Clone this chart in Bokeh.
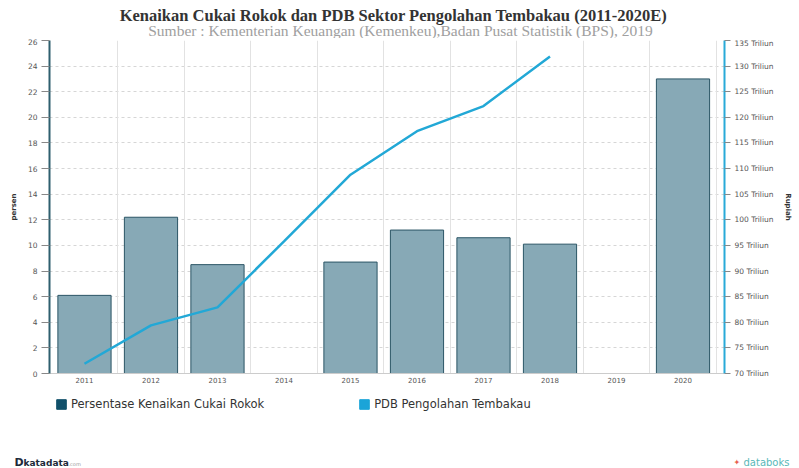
from bokeh.plotting import figure
from bokeh.layouts import column
from bokeh.models import (Range1d, LinearAxis, FixedTicker, PrintfTickFormatter, Label,
                          Legend, LegendItem)
from bokeh.embed import file_html
from bokeh.resources import INLINE

years = ["2011", "2012", "2013", "2014", "2015", "2016", "2017", "2018", "2019", "2020"]
cukai = [6.1, 12.2, 8.5, 0, 8.7, 11.2, 10.6, 10.1, 0, 23.0]
pdb_years = ["2011", "2012", "2013", "2014", "2015", "2016", "2017", "2018"]
pdb = [71.9, 79.4, 82.9, 95.8, 108.8, 117.3, 122.2, 131.9]
left_ticks = list(range(0, 27, 2))
right_ticks = list(range(70, 136, 5))

title_text = "Kenaikan Cukai Rokok dan PDB Sektor Pengolahan Tembakau (2011-2020E)"
subtitle_text = "Sumber : Kementerian Keuangan (Kemenkeu),Badan Pusat Statistik (BPS), 2019"
bar_label = "Persentase Kenaikan Cukai Rokok"
line_label = "PDB Pengolahan Tembakau"

W = 799
TOP_H = 38
MAIN_H = 352
BOT_H = 468 - TOP_H - MAIN_H
font = "DejaVu Sans"

# category slots: each year occupies one unit, centred at index + 0.5
xc = [i + 0.5 for i in range(len(years))]
pdb_x = [years.index(y) + 0.5 for y in pdb_years]


def blank(h):
    f = figure(width=W, height=h, x_range=Range1d(0, W), y_range=Range1d(0, h),
               output_backend="svg", toolbar_location=None,
               x_axis_location=None, y_axis_location=None, frame_align=False,
               min_border_left=0, min_border_right=0, min_border_top=0, min_border_bottom=0)
    f.grid.visible = False
    f.outline_line_color = None
    f.background_fill_color = "white"
    f.border_fill_color = "white"
    return f


# ---- title block
top = blank(TOP_H)
top.add_layout(Label(x=393, y=TOP_H - 15, text=title_text,
                     text_font="Liberation Serif", text_font_style="bold", text_font_size="16.5px",
                     text_color="#333333", text_align="center", text_baseline="middle"))
top.add_layout(Label(x=400, y=TOP_H - 29.5, text=subtitle_text,
                     text_font="Liberation Serif", text_font_size="15.5px",
                     text_color="#a0a0a0", text_align="center", text_baseline="middle"))

# ---- main chart
p = figure(width=W, height=MAIN_H, x_range=Range1d(-0.026, len(years) + 0.124),
           y_range=Range1d(0, 26), output_backend="svg", toolbar_location=None,
           frame_align=False,
           min_border_left=49, min_border_right=75, min_border_top=2, min_border_bottom=17)
p.outline_line_color = None
p.background_fill_color = "white"
p.border_fill_color = "white"
p.extra_y_ranges = {"pdb": Range1d(70, 135)}

p.ygrid.ticker = FixedTicker(ticks=left_ticks)
p.ygrid.grid_line_color = "#d6d6d6"
p.ygrid.grid_line_dash = "3 3"
p.xgrid.visible = False
p.vspan(x=[i for i in range(1, len(years) + 1)], line_color="#e2e2e2", line_width=1)

p.vbar(x=xc, top=cukai, width=0.8, fill_color="#87a9b6", line_color="#2b5565", line_width=1)
p.line(x=pdb_x, y=pdb, y_range_name="pdb", line_color="#22a8d6", line_width=2.5)

yl = p.yaxis[0]
yl.ticker = FixedTicker(ticks=left_ticks)
yl.axis_line_color = "#2e5f6e"
yl.axis_line_width = 2
yl.major_tick_line_color = "#888888"
yl.major_tick_out = 8
yl.major_tick_in = 0
yl.minor_tick_line_color = None
yl.major_label_text_font = font
yl.major_label_text_font_size = "7.5px"
yl.major_label_text_color = "#555555"
yl.major_label_standoff = 4
yl.axis_label = "persen"
yl.axis_label_text_font = font
yl.axis_label_text_font_size = "7px"
yl.axis_label_text_font_style = "bold"
yl.axis_label_text_color = "#333333"
yl.axis_label_standoff = 7

yr = LinearAxis(y_range_name="pdb", ticker=FixedTicker(ticks=right_ticks),
                formatter=PrintfTickFormatter(format="%d Triliun"))
yr.axis_line_color = "#29aad8"
yr.axis_line_width = 2
yr.major_tick_line_color = "#888888"
yr.major_tick_out = 6
yr.major_tick_in = 0
yr.minor_tick_line_color = None
yr.major_label_text_font = font
yr.major_label_text_font_size = "7.5px"
yr.major_label_text_color = "#555555"
yr.major_label_standoff = 4
yr.axis_label = "Rupiah"
yr.axis_label_text_font = font
yr.axis_label_text_font_size = "7px"
yr.axis_label_text_font_style = "bold"
yr.axis_label_text_color = "#333333"
yr.axis_label_standoff = 7
p.add_layout(yr, "right")

xa = p.xaxis[0]
xa.ticker = FixedTicker(ticks=xc)
xa.major_label_overrides = {x: y for x, y in zip(xc, years)}
xa.axis_line_color = "#cccccc"
xa.major_tick_line_color = None
xa.minor_tick_line_color = None
xa.major_tick_out = 0
xa.major_tick_in = 0
xa.major_label_text_font = font
xa.major_label_text_font_size = "7px"
xa.major_label_text_color = "#555555"
xa.major_label_standoff = 3

# ---- legend + footer
bot = blank(BOT_H)
r1 = bot.rect(x=[-100], y=[-100], width=1, height=1, fill_color="#11506a", line_color="#11506a")
r2 = bot.rect(x=[-100], y=[-100], width=1, height=1, fill_color="#1ba4d8", line_color="#1ba4d8")
legend = Legend(items=[LegendItem(label=bar_label, renderers=[r1]),
                       LegendItem(label=line_label, renderers=[r2])],
                orientation="horizontal", location=(55, BOT_H - 21), padding=0, margin=0,
                spacing=94, glyph_width=12, glyph_height=12, label_standoff=4,
                label_text_font=font, label_text_font_size="11.5px", label_text_color="#333333",
                border_line_color=None, background_fill_alpha=0)
bot.add_layout(legend, "center")

bot.add_layout(Label(x=14, y=6, text="D", text_font=font, text_font_style="bold",
                     text_font_size="11px", text_color="#1d2a3a", text_baseline="middle"))
bot.add_layout(Label(x=23, y=6, text="katadata", text_font=font, text_font_style="bold",
                     text_font_size="9px", text_color="#1d2a3a", text_baseline="middle"))
bot.add_layout(Label(x=68, y=5, text=".com", text_font=font,
                     text_font_size="5px", text_color="#999999", text_baseline="middle"))
bot.add_layout(Label(x=733, y=6, text="\u2726", text_font=font,
                     text_font_size="8px", text_color="#e8604c", text_baseline="middle"))
bot.add_layout(Label(x=743, y=6, text="databoks", text_font=font,
                     text_font_size="10px", text_color="#58b8b8", text_baseline="middle"))

layout = column(top, p, bot, spacing=0)
open("out.html", "w").write(file_html(layout, INLINE))
